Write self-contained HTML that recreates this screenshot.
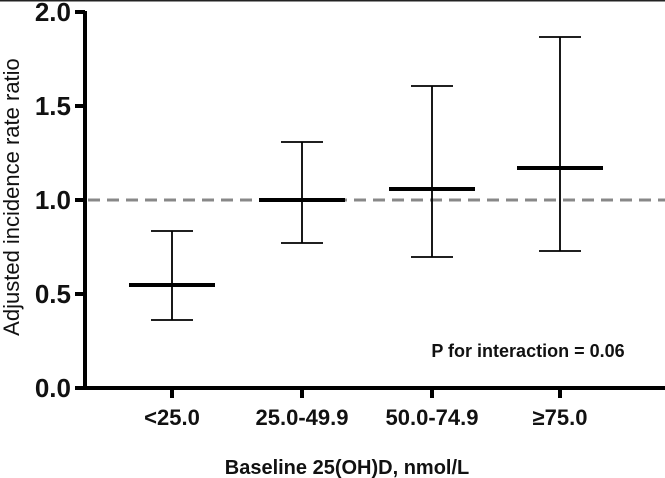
<!DOCTYPE html>
<html><head><style>body{margin:0;background:#fff}svg{display:block}</style></head><body>
<svg width="665" height="478" viewBox="0 0 665 478" xmlns="http://www.w3.org/2000/svg" font-family="Liberation Sans, sans-serif">
<rect x="0" y="0" width="665" height="1.5" fill="#222"/>
<line x1="88" y1="200" x2="665" y2="200" stroke="#888" stroke-width="3" stroke-dasharray="12,7"/>
<g stroke="#000" stroke-width="4" fill="none">
<line x1="85" y1="11" x2="85" y2="390"/>
<line x1="83" y1="388" x2="665" y2="388"/>
<line x1="75" y1="12" x2="85" y2="12"/>
<line x1="75" y1="106" x2="85" y2="106"/>
<line x1="75" y1="200" x2="85" y2="200"/>
<line x1="75" y1="294" x2="85" y2="294"/>
<line x1="75" y1="388" x2="85" y2="388"/>
<line x1="172" y1="388" x2="172" y2="398"/>
<line x1="302" y1="388" x2="302" y2="398"/>
<line x1="432" y1="388" x2="432" y2="398"/>
<line x1="560" y1="388" x2="560" y2="398"/>
<line x1="129" y1="285" x2="215" y2="285"/>
<line x1="259" y1="200" x2="345" y2="200"/>
<line x1="389" y1="189" x2="475" y2="189"/>
<line x1="517" y1="168" x2="603" y2="168"/>
</g>
<g stroke="#000" stroke-width="1.8" fill="none">
<path d="M172 231V320M151 231H193M151 320H193"/>
<path d="M302 142V243M281 142H323M281 243H323"/>
<path d="M432 86V257M411 86H453M411 257H453"/>
<path d="M560 37V251M539 37H581M539 251H581"/>
</g>
<g font-size="26" font-weight="bold" text-anchor="end" fill="#111">
<text x="71" y="21">2.0</text>
<text x="71" y="115">1.5</text>
<text x="71" y="209">1.0</text>
<text x="71" y="303">0.5</text>
<text x="71" y="397">0.0</text>
</g>
<g font-size="22" font-weight="bold" text-anchor="middle" fill="#111">
<text x="172" y="425">&lt;25.0</text>
<text x="302" y="425">25.0-49.9</text>
<text x="432" y="425">50.0-74.9</text>
<text x="560" y="425">≥75.0</text>
</g>
<text x="347" y="474" font-size="20" font-weight="bold" text-anchor="middle" fill="#111">Baseline 25(OH)D, nmol/L</text>
<text x="528" y="357" font-size="18" font-weight="bold" text-anchor="middle" fill="#111">P for interaction = 0.06</text>
<text transform="translate(19,197) rotate(-90)" font-size="22" text-anchor="middle" fill="#111">Adjusted incidence rate ratio</text>
</svg>
</body></html>
